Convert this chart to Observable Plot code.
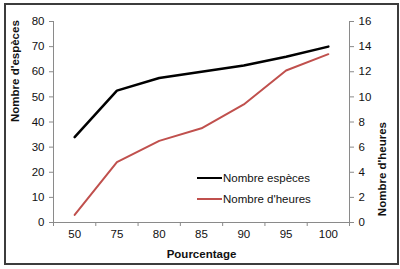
<!DOCTYPE html>
<html>
<head>
<meta charset="utf-8">
<script src="https://cdn.jsdelivr.net/npm/d3@7"></script>
<script src="https://cdn.jsdelivr.net/npm/@observablehq/plot@0.6"></script>
<style>
  html, body { margin: 0; padding: 0; background: #fff; }
  #wrap { position: relative; width: 400px; height: 269px; font-family: "Liberation Sans", Arial, sans-serif; }
  #frame { position: absolute; left: 4px; top: 3px; width: 395px; height: 262px; box-sizing: border-box; border: 2px solid #3c3c3c; pointer-events: none; }
  #chart { position: absolute; left: 0; top: 0; }
  .leg { position: absolute; font-size: 11.5px; color: #111; display: flex; align-items: center; white-space: nowrap; }
  .leg span.sw { display: inline-block; width: 25px; height: 0; margin-right: 1px; }
</style>
</head>
<body>
<div id="wrap">
  <div id="chart"></div>
  <div id="legend"></div>
  <div id="frame"></div>
</div>
<script>
const categories = ["50", "75", "80", "85", "90", "95", "100"];
const especes = [34, 52.5, 57.5, 60, 62.5, 66, 70];
const heures = [0.6, 4.8, 6.5, 7.5, 9.4, 12.1, 13.4];
const leftTicks = [0, 10, 20, 30, 40, 50, 60, 70, 80];
const rightTicks = [0, 2, 4, 6, 8, 10, 12, 14, 16];
const seriesNames = ["Nombre espèces", "Nombre d'heures"];
const seriesColors = ["#000000", "#C0504D"];
const xTitle = "Pourcentage";
const yLeftTitle = "Nombre d'espèces";
const yRightTitle = "Nombre d'heures";

const ratio = leftTicks[leftTicks.length - 1] / rightTicks[rightTicks.length - 1];
const idx = categories.map((c, i) => i);
const rowsE = categories.map((c, i) => ({i, v: especes[i]}));
const rowsH = categories.map((c, i) => ({i, v: heures[i] * ratio}));
const bounds = d3.range(-0.5, categories.length, 1);
const axisGray = "#8a8a8a";

const chart = Plot.plot({
  width: 400,
  height: 269,
  marginLeft: 53,
  marginRight: 51,
  marginTop: 21,
  marginBottom: 47,
  style: {fontFamily: "'Liberation Sans', Arial, sans-serif", fontSize: "11.5px", color: "#111", background: "transparent"},
  x: {type: "linear", domain: [-0.5, categories.length - 0.5], axis: null},
  y: {domain: [0, 80], axis: null},
  marks: [
    Plot.ruleY([0], {stroke: axisGray}),
    Plot.ruleX([-0.5, categories.length - 0.5], {stroke: axisGray}),
    Plot.axisX({ticks: bounds, tickFormat: () => "", tickSize: 4, stroke: axisGray, label: null}),
    Plot.axisX({ticks: idx, tickFormat: i => categories[i], tickSize: 0, tickPadding: 7, label: null}),
    Plot.axisY({anchor: "left", ticks: leftTicks, tickSize: 4, tickPadding: 5, stroke: axisGray, label: null}),
    Plot.axisY({anchor: "right", ticks: rightTicks.map(v => v * ratio), tickFormat: d => d / ratio, tickSize: 4, tickPadding: 5, stroke: axisGray, label: null}),
    Plot.line(rowsH, {x: "i", y: "v", stroke: seriesColors[1], strokeWidth: 2}),
    Plot.line(rowsE, {x: "i", y: "v", stroke: seriesColors[0], strokeWidth: 2.5}),
    Plot.text([xTitle], {frameAnchor: "bottom", dy: 35, fontWeight: "bold", fill: "#111"}),
    Plot.text([yLeftTitle], {frameAnchor: "left", rotate: -90, dx: -38, fontWeight: "bold", fill: "#111"}),
    Plot.text([yRightTitle], {frameAnchor: "right", rotate: -90, dx: 33, fontWeight: "bold", fill: "#111"})
  ]
});
document.getElementById("chart").appendChild(chart);

const legend = document.getElementById("legend");
const legTops = [170, 191];
seriesNames.forEach((name, k) => {
  const d = document.createElement("div");
  d.className = "leg";
  d.style.left = "197px";
  d.style.top = legTops[k] + "px";
  d.style.height = "16px";
  d.innerHTML = `<span class="sw" style="border-top:${k === 0 ? 2.5 : 2}px solid ${seriesColors[k]}"></span>${name}`;
  legend.appendChild(d);
});
</script>
</body>
</html>
